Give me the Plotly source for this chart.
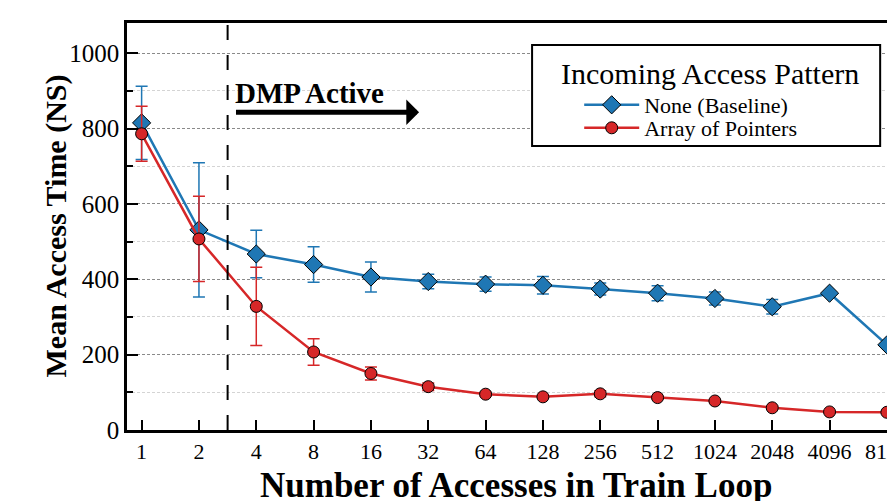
import plotly.graph_objects as go

categories = ["1", "2", "4", "8", "16", "32", "64", "128", "256", "512", "1024", "2048", "4096", "8192"]
baseline_mean = [815, 531, 467, 439, 406, 394, 387, 384, 374, 363, 349, 327, 363, 226]
baseline_err = [97, 178, 63, 47, 40, 19, 19, 23, 16, 20, 17, 19, 5, 5]
pointers_mean = [786, 507, 328, 207, 150, 115, 95, 88, 96, 86, 77, 59, 48, 47]
pointers_err = [73, 113, 104, 35, 17, 10, 5, 4, 8, 4, 4, 4, 3, 3]

BLUE = "#1f77b4"
RED = "#d62728"
FONT = "Liberation Serif"
xs = list(range(len(categories)))

fig = go.Figure()
fig.add_trace(go.Scatter(
    x=xs, y=baseline_mean, name="None (Baseline)", mode="lines+markers", legend="legend",
    line=dict(color=BLUE, width=2.5),
    marker=dict(symbol="diamond", size=14, color=BLUE, line=dict(color="black", width=1)),
    error_y=dict(type="data", array=baseline_err, color=BLUE, thickness=1.5, width=6),
))
fig.add_trace(go.Scatter(
    x=xs, y=pointers_mean, name="Array of Pointers", mode="lines+markers", legend="legend2",
    line=dict(color=RED, width=2.5),
    marker=dict(symbol="circle", size=12, color=RED, line=dict(color="black", width=1)),
    error_y=dict(type="data", array=pointers_err, color=RED, thickness=1.5, width=6),
))

# DMP active boundary
fig.add_shape(type="line", xref="x", yref="paper", x0=1.5, x1=1.5, y0=0, y1=1,
              line=dict(color="black", width=2, dash="longdash"))
fig.add_annotation(x=1.6, y=894, xref="x", yref="y", text="<b>DMP Active</b>", showarrow=False,
                   xanchor="left", yanchor="middle", font=dict(family=FONT, size=29, color="black"))
fig.add_annotation(x=4.84, y=843, ax=1.62, ay=843, xref="x", yref="y", axref="x", ayref="y",
                   text="", showarrow=True, arrowhead=1, arrowsize=0.85, arrowwidth=5, arrowcolor="black")

# legend frame and title
fig.add_shape(type="rect", xref="paper", yref="paper", x0=0.533, x1=0.991, y0=0.698, y1=0.946,
              fillcolor="white", line=dict(color="black", width=2), layer="above")
fig.add_annotation(x=0.767, y=0.877, xref="paper", yref="paper", text="Incoming Access Pattern",
                   showarrow=False, xanchor="center", yanchor="middle",
                   font=dict(family=FONT, size=30, color="black"))

# axis titles
fig.add_annotation(x=0, y=0.5, xref="paper", yref="paper", xshift=-72, textangle=-90,
                   text="<b>Mean Access Time (NS)</b>", showarrow=False,
                   xanchor="center", yanchor="middle", font=dict(family=FONT, size=30, color="black"))
fig.add_annotation(x=0.512, y=0, xref="paper", yref="paper", yshift=-55,
                   text="<b>Number of Accesses in Train Loop</b>", showarrow=False,
                   xanchor="center", yanchor="middle", font=dict(family=FONT, size=35, color="black"))

leg_common = dict(xanchor="left", yanchor="middle", bgcolor="rgba(0,0,0,0)", borderwidth=0,
                  itemwidth=55, font=dict(family=FONT, size=22, color="black"))

fig.update_layout(
    width=887, height=501,
    margin=dict(l=127, r=0, t=23, b=71, autoexpand=False),
    paper_bgcolor="white", plot_bgcolor="white",
    font=dict(family=FONT, color="black"),
    showlegend=True,
    legend=dict(x=0.595, y=0.7985, **leg_common),
    legend2=dict(x=0.595, y=0.742, **leg_common),
    xaxis=dict(
        range=[-0.255, 13.002], tickmode="array", tickvals=xs, ticktext=categories,
        showgrid=False, zeroline=False, ticklabeloverflow="allow", automargin=False,
        showline=True, linecolor="black", linewidth=2.5, mirror=True,
        ticks="inside", ticklen=10, tickwidth=2, tickcolor="black",
        tickfont=dict(family=FONT, size=22),
    ),
    yaxis=dict(
        range=[0, 1080], dtick=200, tick0=0, automargin=False,
        showgrid=True, gridcolor="#8a8a8a", gridwidth=1.3, griddash="3px,2px",
        zeroline=False,
        showline=True, linecolor="black", linewidth=2.5,
        ticks="inside", ticklen=11, tickwidth=2, tickcolor="black",
        tickfont=dict(family=FONT, size=25),
        minor=dict(dtick=100, showgrid=True, gridcolor="#d4d4d4", gridwidth=1.3, griddash="3px,2px",
                   ticks="inside", ticklen=6, tickwidth=1.5, tickcolor="black"),
    ),
)

fig.write_html("out.html", config={"displayModeBar": False},
               post_script="document.body.style.margin='0';document.body.style.overflow='hidden';")
